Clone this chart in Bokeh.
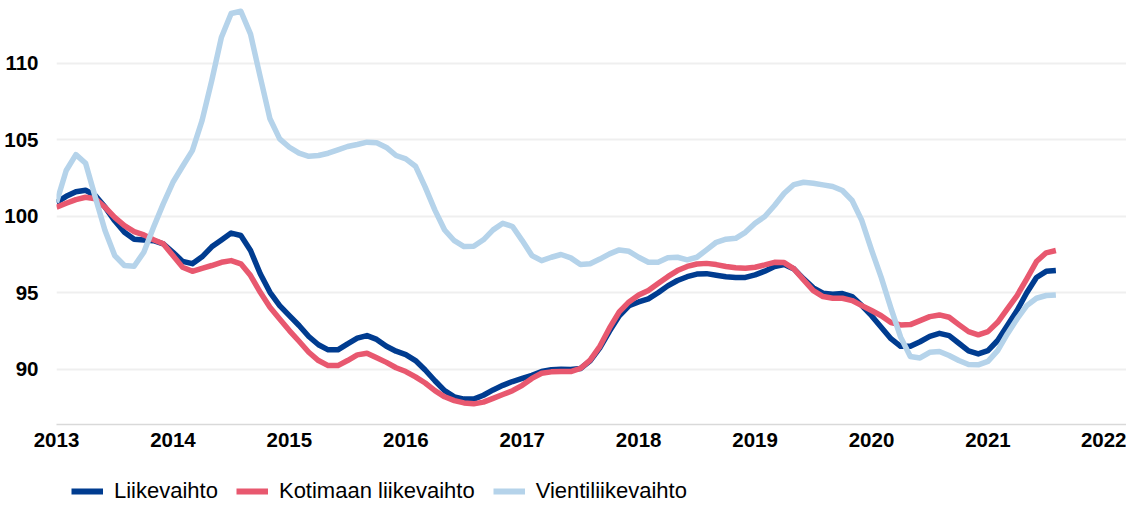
from bokeh.plotting import figure
from bokeh.models import Legend, LegendItem, FixedTicker, Range1d
from bokeh.layouts import column
from bokeh.embed import file_html
from bokeh.resources import INLINE

start_year = 2013
year_ticks = [2013, 2014, 2015, 2016, 2017, 2018, 2019, 2020, 2021, 2022]
y_ticks = [90, 95, 100, 105, 110]

liikevaihto = [
    100.9, 101.3, 101.6, 101.7, 101.35, 100.6, 99.7, 98.95, 98.5, 98.45,
    98.4, 98.2, 97.65, 97.05, 96.9, 97.35, 98.0, 98.45, 98.9, 98.74,
    97.76, 96.24, 95.03, 94.16, 93.5, 92.86, 92.14, 91.6, 91.27, 91.27,
    91.66, 92.03, 92.2, 91.95, 91.5, 91.18, 90.96, 90.57, 89.95, 89.25,
    88.6, 88.2, 88.05, 88.05, 88.3, 88.65, 88.95, 89.2, 89.4, 89.6,
    89.85, 89.97, 90.0, 89.98, 90.05, 90.55, 91.4, 92.5, 93.5, 94.15,
    94.4, 94.6, 95.0, 95.45, 95.8, 96.05, 96.22, 96.25, 96.15, 96.05,
    96.0, 96.0, 96.17, 96.41, 96.71, 96.84, 96.56, 95.91, 95.32, 94.97,
    94.9, 94.95, 94.75, 94.16, 93.5, 92.75, 92.0, 91.5, 91.5, 91.8,
    92.15, 92.35, 92.2, 91.7, 91.2, 91.0, 91.22, 91.88, 92.86, 93.84,
    95.0, 96.0, 96.4, 96.45,
]

kotimaan = [
    100.59, 100.85, 101.09, 101.24, 101.14, 100.59, 99.93, 99.39, 99.0, 98.78,
    98.46, 98.2, 97.43, 96.67, 96.4, 96.6, 96.78, 96.99, 97.1, 96.89,
    96.12, 95.03, 94.05, 93.29, 92.53, 91.83, 91.11, 90.57, 90.24, 90.24,
    90.57, 90.94, 91.05, 90.75, 90.45, 90.1, 89.85, 89.5, 89.1, 88.6,
    88.2, 87.95, 87.8, 87.74, 87.85, 88.1, 88.35, 88.6, 88.95, 89.4,
    89.74, 89.83, 89.85, 89.85, 90.05, 90.6, 91.5, 92.7, 93.75, 94.4,
    94.85, 95.15, 95.6, 96.05, 96.45, 96.72, 96.88, 96.92, 96.84, 96.72,
    96.63, 96.6, 96.67, 96.82, 96.99, 96.97, 96.56, 95.84, 95.14, 94.75,
    94.64, 94.64, 94.49, 94.16, 93.84, 93.5, 93.05, 92.9, 92.92, 93.18,
    93.44, 93.55, 93.4, 92.92, 92.46, 92.25, 92.46, 93.07, 93.95, 94.82,
    95.91, 97.04, 97.61, 97.76,
]

vienti = [
    100.9, 102.99, 104.03, 103.46, 101.24, 99.07, 97.43, 96.78, 96.73, 97.65,
    99.28, 100.81, 102.22, 103.27, 104.29, 106.25, 108.87, 111.7, 113.25, 113.4,
    111.9, 109.1, 106.37, 105.06, 104.51, 104.12, 103.92, 103.97, 104.12, 104.34,
    104.56, 104.69, 104.84, 104.8, 104.5, 103.97, 103.75, 103.27, 101.9, 100.4,
    99.1, 98.4, 98.02, 98.04, 98.46, 99.11, 99.54, 99.33, 98.41, 97.43,
    97.1, 97.32, 97.5, 97.28, 96.84, 96.89, 97.2, 97.54, 97.8, 97.71,
    97.32, 96.99, 96.99, 97.28, 97.32, 97.15, 97.32, 97.8, 98.3, 98.5,
    98.56, 98.95, 99.54, 99.98, 100.7, 101.5, 102.07, 102.22, 102.16, 102.05,
    101.94, 101.68, 101.03, 99.72, 97.8, 96.0, 94.0, 92.1, 90.83, 90.74,
    91.11, 91.16, 90.9, 90.57, 90.31, 90.29, 90.52, 91.22, 92.31, 93.29,
    94.16, 94.64, 94.82, 94.86,
]

series_names = ["Liikevaihto", "Kotimaan liikevaihto", "Vientiliikevaihto"]
colors = ["#003C90", "#E8586F", "#B5D3EA"]

x = [start_year + i / 12 for i in range(len(liikevaihto))]

# ---- main chart ----
p = figure(
    width=1126, height=454,
    output_backend="svg", toolbar_location=None,
    x_range=Range1d(2013.0, 2022.19), y_range=Range1d(86.39, 114.1),
    min_border_left=56, min_border_right=0, min_border_top=0, min_border_bottom=30,
)
p.outline_line_color = None
p.background_fill_color = "white"
p.border_fill_color = "white"

for vals, col in zip([liikevaihto, kotimaan, vienti], colors):
    p.line(x, vals, line_color=col, line_width=5.5, line_join="round")

xa = p.xaxis[0]
xa.ticker = FixedTicker(ticks=year_ticks)
xa.axis_line_color = "#d9d9d9"
xa.axis_line_width = 1.5
xa.major_tick_line_color = None
xa.minor_tick_line_color = None
xa.major_label_text_font = "Liberation Sans"
xa.major_label_text_font_style = "bold"
xa.major_label_text_font_size = "20.5px"
xa.major_label_text_color = "#000000"
xa.major_label_standoff = 2

ya = p.yaxis[0]
ya.ticker = FixedTicker(ticks=y_ticks)
ya.axis_line_color = None
ya.major_tick_line_color = None
ya.minor_tick_line_color = None
ya.major_label_text_font = "Liberation Sans"
ya.major_label_text_font_style = "bold"
ya.major_label_text_font_size = "20.5px"
ya.major_label_text_color = "#000000"
ya.major_label_standoff = 12

p.xgrid.grid_line_color = None
p.ygrid.grid_line_color = "#efefef"
p.ygrid.grid_line_width = 2

# ---- legend strip ----
lg = figure(
    width=1126, height=48,
    output_backend="svg", toolbar_location=None,
    x_axis_type=None, y_axis_type=None,
    x_range=Range1d(0, 1), y_range=Range1d(0, 1),
    min_border=0,
)
lg.outline_line_color = None
lg.grid.visible = False
lg.background_fill_color = "white"
lg.border_fill_color = "white"

nan = float("nan")
legend_renderers = [lg.line(x=[nan], y=[nan], line_color=col, line_width=6) for col in colors]

legend = Legend(
    items=[LegendItem(label=n, renderers=[r]) for n, r in zip(series_names, legend_renderers)],
    orientation="horizontal",
    location=(15, -2),
    padding=0, margin=0, spacing=18,
    glyph_width=32, glyph_height=20, label_standoff=11,
    border_line_color=None, background_fill_alpha=0,
    label_text_font="Liberation Sans", label_text_font_size="22px",
    label_text_color="#000000",
)
lg.add_layout(legend, "center")

layout = column(p, lg, spacing=0)
open("out.html", "w").write(file_html(layout, INLINE))
